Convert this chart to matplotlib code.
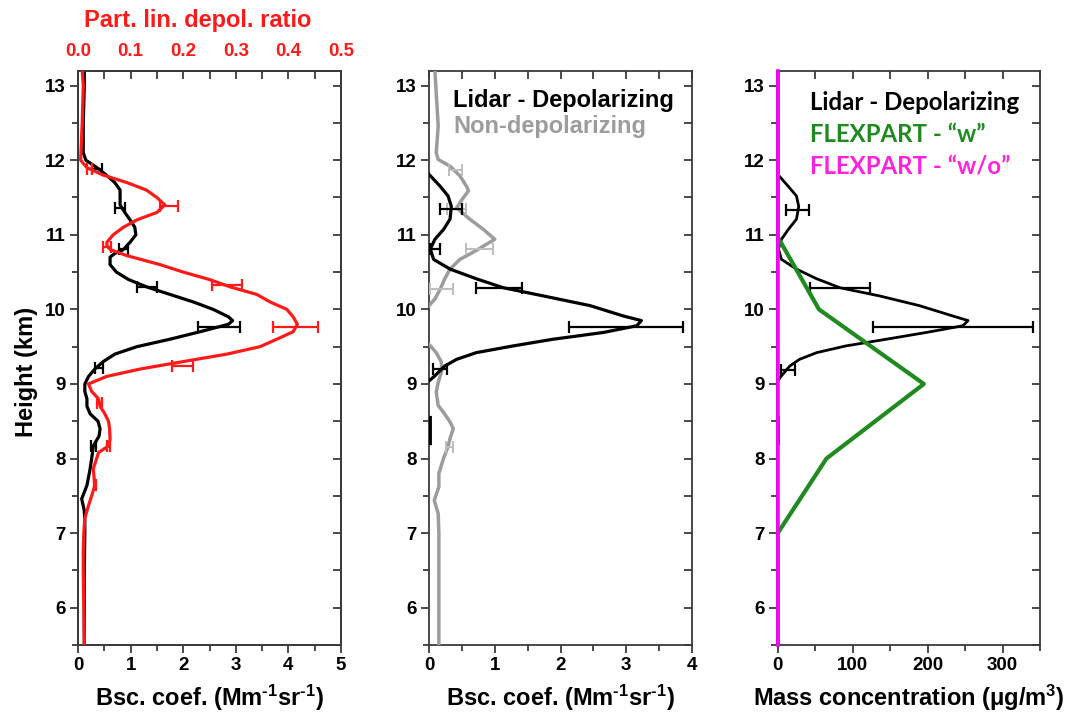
import numpy as np
import matplotlib
matplotlib.use("Agg")
import matplotlib.pyplot as plt
from matplotlib.ticker import MultipleLocator, FormatStrFormatter

plt.rcParams['font.family'] = ['Liberation Sans', 'DejaVu Sans']
plt.rcParams['font.weight'] = 'bold'
plt.rcParams['mathtext.fontset'] = 'custom'
plt.rcParams['mathtext.rm'] = 'Liberation Sans:bold'
plt.rcParams['mathtext.bf'] = 'Liberation Sans:bold'
plt.rcParams['mathtext.it'] = 'Liberation Sans:bold'

# ---------------- data ----------------
# Left panel: depolarizing backscatter (Mm-1 sr-1)
h_bsc_left = [5.5, 6.0, 6.5, 7.0, 7.15, 7.3, 7.46, 7.64, 7.86, 8.05,
              8.17, 8.3, 8.4, 8.5, 8.6, 8.7, 8.8, 8.9, 9.0, 9.1,
              9.2, 9.3, 9.4, 9.5, 9.6, 9.7, 9.8, 9.85, 9.9, 10.0,
              10.1, 10.2, 10.3, 10.4, 10.5, 10.6, 10.7, 10.75, 10.8, 10.9,
              11.0, 11.1, 11.2, 11.3, 11.4, 11.5, 11.6, 11.7, 11.8, 11.9,
              12.0, 12.1, 12.5, 13.0, 13.2]
bsc_left = [0.12, 0.12, 0.12, 0.13, 0.13, 0.12, 0.07, 0.17, 0.23, 0.27,
            0.29, 0.40, 0.42, 0.38, 0.23, 0.17, 0.17, 0.13, 0.13, 0.20,
            0.32, 0.48, 0.70, 1.12, 1.75, 2.32, 2.86, 2.94, 2.86, 2.57,
            2.19, 1.75, 1.31, 0.96, 0.73, 0.61, 0.61, 0.70, 0.86, 0.99,
            1.10, 1.08, 0.99, 0.89, 0.80, 0.80, 0.80, 0.70, 0.54, 0.36,
            0.15, 0.10, 0.10, 0.12, 0.12]
eb_bsc_left_h = [11.88, 11.36, 10.81, 10.30, 9.76, 9.22, 8.17]
eb_bsc_left_lo = [0.26, 0.70, 0.77, 1.12, 2.29, 0.32, 0.25]
eb_bsc_left_hi = [0.45, 0.89, 0.96, 1.50, 3.08, 0.48, 0.35]

# Left panel: particle linear depolarization ratio
h_pldr = [5.5, 6.0, 6.5, 6.75, 7.0, 7.2, 7.37, 7.5, 7.64, 7.86,
          8.08, 8.17, 8.26, 8.4, 8.5, 8.6, 8.7, 8.8, 8.9, 9.0,
          9.1, 9.2, 9.3, 9.4, 9.5, 9.6, 9.7, 9.8, 9.9, 10.0,
          10.1, 10.2, 10.3, 10.4, 10.5, 10.6, 10.72, 10.8, 10.85, 10.9,
          11.0, 11.1, 11.2, 11.3, 11.4, 11.5, 11.6, 11.7, 11.8, 11.9,
          12.0, 12.5, 13.0, 13.2]
pldr = [0.012, 0.011, 0.010, 0.010, 0.011, 0.013, 0.020, 0.026, 0.032, 0.029,
        0.039, 0.058, 0.061, 0.060, 0.058, 0.051, 0.042, 0.039, 0.026, 0.020,
        0.054, 0.118, 0.200, 0.283, 0.346, 0.378, 0.409, 0.417, 0.409, 0.397,
        0.365, 0.340, 0.290, 0.250, 0.200, 0.156, 0.093, 0.062, 0.055, 0.055,
        0.067, 0.086, 0.112, 0.150, 0.165, 0.150, 0.130, 0.093, 0.048, 0.017,
        0.005, 0.008, 0.010, 0.008]
eb_pldr_h = [11.88, 11.39, 10.84, 10.33, 9.77, 9.24, 8.75, 8.17, 7.64]
eb_pldr_lo = [0.017, 0.156, 0.048, 0.255, 0.371, 0.178, 0.036, 0.055, 0.030]
eb_pldr_hi = [0.027, 0.190, 0.062, 0.312, 0.456, 0.218, 0.045, 0.061, 0.034]

# Middle panel: depolarizing / non-depolarizing backscatter
h_dep = [8.20, 8.35, 8.55, np.nan,
         9.04, 9.11, 9.24, 9.33, 9.42, 9.51, 9.6, 9.69, 9.78, 9.85,
         9.91, 10.05, 10.18, 10.29, 10.41, 10.54, 10.67, 10.81, 10.94, 11.07,
         11.21, 11.38, 11.52, 11.65, 11.81]
bsc_dep = [0.02, 0.02, 0.02, np.nan,
           0.0, 0.09, 0.24, 0.42, 0.72, 1.28, 1.89, 2.65, 3.16, 3.23,
           2.96, 2.45, 1.74, 1.13, 0.72, 0.32, 0.07, 0.02, 0.09, 0.22,
           0.32, 0.34, 0.29, 0.17, 0.0]
eb_dep_h = [11.34, 10.81, 10.29, 9.76, 9.20]
eb_dep_lo = [0.17, 0.01, 0.72, 2.13, 0.06]
eb_dep_hi = [0.50, 0.17, 1.41, 3.87, 0.27]

h_nondep = [5.5, 6.0, 6.5, 7.0, 7.26, 7.44, 7.62, 7.8, 8.0, 8.16,
            8.27, 8.4, 8.49, 8.62, 8.71, 8.89, 9.02, 9.16, 9.29, 9.42,
            9.53, np.nan,
            10.05, 10.14, 10.27, 10.41, 10.54, 10.67, 10.79, 10.85, 10.94, 11.07,
            11.21, 11.36, 11.47, 11.59, 11.65, 11.79, 11.92, 12.01, 12.1, 12.46,
            12.9, 13.2]
bsc_nondep = [0.15, 0.15, 0.15, 0.15, 0.14, 0.08, 0.15, 0.15, 0.22, 0.29,
              0.32, 0.37, 0.32, 0.22, 0.14, 0.11, 0.14, 0.19, 0.19, 0.11,
              0.0, np.nan,
              0.0, 0.09, 0.17, 0.24, 0.32, 0.47, 0.72, 0.83, 1.0, 0.83,
              0.62, 0.42, 0.50, 0.60, 0.57, 0.47, 0.32, 0.14, 0.11, 0.14,
              0.11, 0.09]
eb_nondep_h = [11.87, 11.34, 10.81, 10.27, 8.16]
eb_nondep_lo = [0.30, 0.27, 0.57, 0.02, 0.26]
eb_nondep_hi = [0.50, 0.57, 0.98, 0.37, 0.36]

# Right panel: mass concentration (ug/m3)
h_mass = [8.20, 8.35, 8.55, np.nan,
          9.04, 9.11, 9.24, 9.33, 9.42, 9.51, 9.6, 9.69, 9.78, 9.85,
          9.91, 10.05, 10.18, 10.29, 10.41, 10.54, 10.67, 10.81, 10.94, 11.07,
          11.21, 11.38, 11.52, 11.65, 11.81]
mass_lidar = [1, 1, 1, np.nan,
              0, 5, 16, 29, 52, 91, 145, 198, 247, 254,
              234, 189, 136, 83, 52, 25, 5, 1, 5, 14,
              25, 28, 25, 14, 0]
eb_mass_h = [11.33, 10.29, 9.76, 9.19]
eb_mass_lo = [11, 43, 127, 5]
eb_mass_hi = [42, 123, 340, 23]

h_flex = [5.5, 7.0, 8.0, 9.0, 10.0, 10.97, 13.2]
mass_flex_w = [0, 0, 65, 195, 55, 0, 0]
h_flex_wo = [5.5, 13.2]
mass_flex_wo = [0, 0]

# ---------------- figure ----------------
W, H = 1081, 714
fig = plt.figure(figsize=(W / 100, H / 100), dpi=100)

AX_TOP, AX_BOT = 70.7, 645
ax_bottom = 1 - AX_BOT / H
ax_height = (AX_BOT - AX_TOP) / H
ax_w = 263 / W
lefts_px = [78, 429, 777]

SPINE = '#3a3a3a'
RED = '#ff1a1a'
GREEN = '#1f8a1f'
TICKFS = 13.5
LABELFS = 17


def ftext(x, y, s, **kw):
    kw.setdefault('va', 'baseline')
    kw.setdefault('ha', 'left')
    return fig.text(x / W, 1 - y / H, s, **kw)


def style_axes(ax, xmaj, xmin, top_ticks=True):
    for s in ax.spines.values():
        s.set_color(SPINE)
        s.set_linewidth(1.3)
    ax.set_ylim(5.5, 13.2)
    ax.yaxis.set_major_locator(MultipleLocator(1))
    ax.yaxis.set_minor_locator(MultipleLocator(0.5))
    ax.xaxis.set_major_locator(MultipleLocator(xmaj))
    ax.xaxis.set_minor_locator(MultipleLocator(xmin))
    ax.tick_params(axis='both', which='major', direction='out', length=6,
                   width=1.3, color=SPINE, labelsize=TICKFS, pad=3)
    ax.tick_params(axis='both', which='minor', direction='out', length=4,
                   width=1.3, color=SPINE)
    sy = ax.secondary_yaxis('right')
    sy.yaxis.set_major_locator(MultipleLocator(0.5))
    sy.tick_params(direction='in', length=6, width=1.3, color=SPINE,
                   labelright=False)
    sy.spines['right'].set_visible(False)
    if top_ticks:
        sx = ax.secondary_xaxis('top')
        sx.xaxis.set_major_locator(MultipleLocator(xmin))
        sx.tick_params(direction='in', length=6, width=1.3, color=SPINE,
                       labeltop=False)
        sx.spines['top'].set_visible(False)
    for lab in ax.get_xticklabels() + ax.get_yticklabels():
        lab.set_fontweight('bold')


def errbars(ax, hs, lo, hi, color, lw=1.6, cap=4):
    for h, a, b in zip(hs, lo, hi):
        ax.errorbar([(a + b) / 2], [h], xerr=[[(b - a) / 2], [(b - a) / 2]],
                    fmt='none', ecolor=color, elinewidth=lw, capsize=cap,
                    capthick=lw, zorder=3)


BSC_LABEL = r'Bsc. coef. (Mm$^{\text{-1}}$sr$^{\text{-1}}$)'

# ---- Left panel ----
ax1 = fig.add_axes([lefts_px[0] / W, ax_bottom, ax_w, ax_height])
ax1.set_xlim(0, 5)
ax1.plot(bsc_left, h_bsc_left, color='black', lw=2.3, zorder=4)
errbars(ax1, eb_bsc_left_h, eb_bsc_left_lo, eb_bsc_left_hi, 'black')
style_axes(ax1, 1, 0.5, top_ticks=False)

ax1t = ax1.twiny()
ax1t.set_xlim(0, 0.5)
ax1t.plot(pldr, h_pldr, color=RED, lw=2.3, zorder=5)
errbars(ax1t, eb_pldr_h, eb_pldr_lo, eb_pldr_hi, RED)
ax1t.set_ylim(5.5, 13.2)
ax1t.xaxis.set_major_locator(MultipleLocator(0.1))
ax1t.xaxis.set_minor_locator(MultipleLocator(0.05))
ax1t.xaxis.set_major_formatter(FormatStrFormatter('%.1f'))
ax1t.tick_params(axis='x', which='both', direction='in', length=6, width=1.3,
                 color=SPINE, labelsize=TICKFS, labelcolor=RED, pad=8)
for s in ax1t.spines.values():
    s.set_color(SPINE)
    s.set_linewidth(1.3)
for lab in ax1t.get_xticklabels():
    lab.set_fontweight('bold')

ftext(198, 27.5, 'Part. lin. depol. ratio', color=RED, fontsize=LABELFS,
      fontweight='bold', ha='center')
ftext(26, 372, 'Height (km)', fontsize=LABELFS, fontweight='bold',
      rotation=90, ha='center', va='center')

# ---- Middle panel ----
ax2 = fig.add_axes([lefts_px[1] / W, ax_bottom, ax_w, ax_height])
ax2.set_xlim(0, 4)
ax2.plot(bsc_nondep, h_nondep, color='#9c9c9c', lw=2.5, zorder=3)
errbars(ax2, eb_nondep_h, eb_nondep_lo, eb_nondep_hi, '#bdbdbd', lw=1.4)
ax2.plot(bsc_dep, h_dep, color='black', lw=2.3, zorder=4)
errbars(ax2, eb_dep_h, eb_dep_lo, eb_dep_hi, 'black')
style_axes(ax2, 1, 0.5)

# ---- Right panel ----
ax3 = fig.add_axes([lefts_px[2] / W, ax_bottom, ax_w, ax_height])
ax3.set_xlim(-1, 350)
ax3.plot(mass_lidar, h_mass, color='black', lw=2.0, zorder=4)
errbars(ax3, eb_mass_h, eb_mass_lo, eb_mass_hi, 'black')
ax3.plot(mass_flex_w, h_flex, color=GREEN, lw=3.0, zorder=5)
ax3.plot(mass_flex_wo, h_flex_wo, color='#ff00ff', lw=2.6, zorder=6,
         clip_on=False)
style_axes(ax3, 100, 50)

# ---- x labels ----
for xl, lab in zip(lefts_px, [BSC_LABEL, BSC_LABEL,
                              'Mass concentration (\u03bcg/m$^{3}$)']):
    ftext(xl + 131.5, 706, lab, fontsize=LABELFS, fontweight='bold',
          ha='center')

# ---- legend texts ----
ftext(453, 106.7, 'Lidar - Depolarizing', fontsize=17, fontweight='bold',
      color='black')
ftext(453, 133.5, 'Non-depolarizing', fontsize=17, fontweight='bold',
      color='#9c9c9c')

LEGF = ['Lato', 'DejaVu Sans']
ftext(810, 110, 'Lidar - Depolarizing', fontsize=17.3, fontweight='bold',
      color='black', family=LEGF)
ftext(810, 141.5, 'FLEXPART - \u201cw\u201d', fontsize=17.3, fontweight='bold',
      color=GREEN, family=LEGF)
ftext(810, 173, 'FLEXPART - \u201cw/o\u201d', fontsize=17.3, fontweight='bold',
      color='#ff22dd', family=LEGF)

fig.savefig('out.png', dpi=100)
